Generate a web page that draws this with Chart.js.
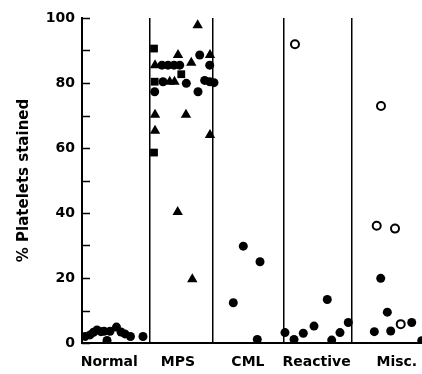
<!DOCTYPE html>
<html>
<head>
<meta charset="utf-8">
<script src="https://cdn.jsdelivr.net/npm/chart.js@4/dist/chart.umd.min.js"></script>
<style>
  html, body { margin: 0; padding: 0; background: #fff; }
  #wrap { width: 422px; height: 374px; position: relative; }
</style>
</head>
<body>
<div id="wrap"><canvas id="chart"></canvas></div>
<script>
// groups along the x axis (x units: 0..5)
const categories = ['Normal', 'MPS', 'CML', 'Reactive', 'Misc.'];
const labelPos = [0.40, 1.41, 2.44, 3.45, 4.63];
const dividers = [0.99, 1.93, 2.96, 3.97];
const yTicks = [0, 10, 20, 30, 40, 50, 60, 70, 80, 90, 100];

// filled circles
const dotX = [
  0.044, 0.118, 0.169, 0.221, 0.279, 0.324, 0.368, 0.412, 0.507, 0.574, 0.632, 0.713, 0.897,
  1.176, 1.265, 1.353, 1.437, 1.878, 1.191, 1.534, 1.804, 1.878, 1.941, 1.069, 1.706, 1.731,
  2.372, 2.618, 2.225, 2.578,
  2.985, 3.118, 3.254, 3.412, 3.607, 3.672, 3.794, 3.916,
  4.393, 4.490, 4.849, 4.299, 4.540, 4.996
];
const dotY = [
  2.0, 2.5, 3.3, 4.0, 3.5, 3.6, 0.8, 3.6, 4.9, 3.4, 2.8, 2.0, 2.0,
  85.5, 85.5, 85.5, 85.5, 85.5, 80.4, 79.9, 80.8, 80.4, 80.1, 77.3, 77.3, 88.6,
  29.8, 25.0, 12.4, 1.1,
  3.2, 1.1, 3.0, 5.2, 13.4, 0.9, 3.2, 6.3,
  19.9, 9.5, 6.3, 3.5, 3.7, 0.7
];

// triangles (MPS)
const triX = [1.701, 1.412, 1.882, 1.607, 1.074, 1.290, 1.360, 1.074, 1.529, 1.074, 1.882, 1.407, 1.622];
const triY = [97.8, 88.6, 88.6, 86.2, 85.5, 80.4, 80.4, 70.2, 70.2, 65.3, 64.0, 40.3, 19.6];

// squares (MPS)
const sqX = [1.059, 1.460, 1.069, 1.059];
const sqY = [90.6, 82.7, 80.4, 58.6];

// open circles
const ringX = [3.132, 4.397, 4.334, 4.603, 4.687];
const ringY = [91.9, 72.9, 36.1, 35.2, 5.8];

const pts = (xs, ys) => xs.map((x, i) => ({ x: x, y: ys[i] }));

// y ticks point into the plot, not out of it
const inwardTicks = {
  id: 'inwardTicks',
  afterDraw(chart) {
    const y = chart.scales.y;
    const ctx = chart.ctx;
    ctx.save();
    ctx.strokeStyle = '#000';
    ctx.lineWidth = 1.5;
    y.ticks.forEach(t => {
      const py = Math.round(y.getPixelForValue(t.value)) + 0.5;
      ctx.beginPath();
      ctx.moveTo(y.right, py);
      ctx.lineTo(y.right + 8, py);
      ctx.stroke();
    });
    ctx.restore();
  }
};

const font = { family: 'DejaVu Sans', size: 14, weight: 'bold' };

new Chart(document.getElementById('chart'), {
  type: 'scatter',
  data: {
    datasets: [
      { data: pts(dotX, dotY), pointStyle: 'circle', pointRadius: 4.5, backgroundColor: '#000', borderWidth: 0 },
      { data: pts(triX, triY), pointStyle: 'triangle', pointRadius: 6, backgroundColor: '#000', borderWidth: 0 },
      { data: pts(sqX, sqY), pointStyle: 'rect', pointRadius: 5.5, backgroundColor: '#000', borderWidth: 0 },
      { data: pts(ringX, ringY), pointStyle: 'circle', pointRadius: 4, backgroundColor: '#fff', borderColor: '#000', borderWidth: 2 }
    ]
  },
  options: {
    responsive: true,
    maintainAspectRatio: false,
    animation: false,
    layout: { autoPadding: false, padding: { top: 18, right: 0, left: 0, bottom: 0 } },
    plugins: { legend: { display: false }, tooltip: { enabled: false } },
    scales: {
      x: {
        type: 'linear',
        min: 0,
        max: 5,
        afterBuildTicks: (scale) => {
          scale.ticks = dividers.concat(labelPos).map(v => ({ value: v }));
        },
        afterFit: (scale) => {
          scale.height = 31;
          scale.paddingLeft = 0;
          scale.paddingRight = 0;
        },
        ticks: {
          autoSkip: false,
          maxRotation: 0,
          padding: 11,
          color: '#000',
          font: font,
          callback: (v, i) => (i >= dividers.length ? categories[i - dividers.length] : '')
        },
        grid: {
          drawTicks: false,
          tickLength: 0,
          lineWidth: 1.5,
          color: (ctx) => (ctx.tick && dividers.includes(ctx.tick.value) ? '#000' : 'rgba(0,0,0,0)')
        },
        border: { display: true, color: '#000', width: 2 }
      },
      y: {
        min: 0,
        max: 100,
        afterBuildTicks: (scale) => {
          scale.ticks = yTicks.map(v => ({ value: v }));
        },
        afterFit: (scale) => { scale.width = 82; },
        ticks: {
          padding: 7,
          color: '#000',
          font: font,
          callback: (v) => (v % 20 === 0 ? v : '')
        },
        grid: { drawOnChartArea: false, drawTicks: false, tickLength: 0 },
        border: { display: true, color: '#000', width: 2 },
        title: {
          display: true,
          text: '% Platelets stained',
          color: '#000',
          font: { family: 'DejaVu Sans', size: 15, weight: 'bold', lineHeight: 1.2 },
          padding: { top: 15, bottom: 0 }
        }
      }
    }
  },
  plugins: [inwardTicks]
});
</script>
</body>
</html>
